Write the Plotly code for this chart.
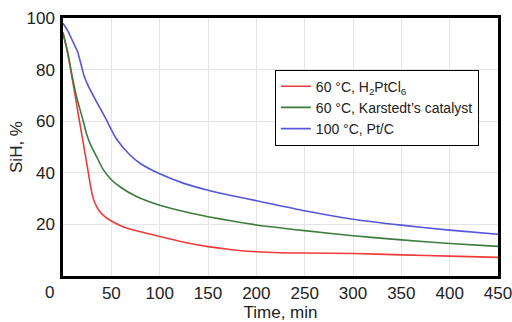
import plotly.graph_objects as go

# Reaction time, min, and remaining Si-H content, %
t_h2ptcl6 = [0, 5, 10, 15, 20, 24, 26, 28, 30, 33, 38, 44, 50, 62, 76, 100, 125, 150, 175, 200, 225, 250, 300, 350, 400, 450]
sih_h2ptcl6 = [94.5, 86, 75.5, 64.5, 53.5, 45, 40.5, 36, 32, 28.3, 25, 22.8, 21.3, 19.1, 17.5, 15.3, 13.1, 11.4, 10.2, 9.4, 9.0, 8.9, 8.7, 8.2, 7.7, 7.2]

t_karstedt = [0, 5, 10, 14, 18, 21, 24, 27.6, 31, 34.6, 41, 50, 60, 75, 100, 125, 150, 175, 200, 250, 300, 350, 400, 450]
sih_karstedt = [94, 86.5, 76.5, 69.5, 64, 60, 55.5, 51.7, 49, 46.4, 41.6, 37.3, 34.3, 31, 27.4, 25, 23, 21.3, 19.8, 17.6, 15.6, 14, 12.6, 11.5]

t_ptc = [0, 5, 10, 15, 19, 22, 27, 34, 44.5, 55, 69, 80, 100, 125, 150, 175, 200, 250, 300, 350, 400, 450]
sih_ptc = [98, 95, 91, 87, 81.5, 77.3, 73, 68, 60.8, 53.3, 47, 43.6, 39.6, 35.9, 33.2, 31.1, 29.2, 25.3, 22, 19.7, 17.8, 16.2]

series = [
    ("60 °C, H<sub>2</sub>PtCl<sub>6</sub>", t_h2ptcl6, sih_h2ptcl6, "#ef3b3b"),
    ("60 °C, Karstedt’s catalyst", t_karstedt, sih_karstedt, "#3e7c3e"),
    ("100 °C, Pt/C", t_ptc, sih_ptc, "#5656dc"),
]

x_ticks = [50, 100, 150, 200, 250, 300, 350, 400, 450]
y_ticks = [20, 40, 60, 80, 100]

FONT = "Liberation Sans"
TXT = "#222"

fig = go.Figure()
for name, xs, ys, color in series:
    fig.add_trace(go.Scatter(
        x=xs, y=ys, name=name, mode="lines",
        line=dict(color=color, width=1.6, shape="spline", smoothing=0.6),
    ))

axis_common = dict(
    showline=True, linecolor="black", linewidth=2.5, mirror=True,
    showgrid=True, gridcolor="#e4e4e4", gridwidth=1,
    zeroline=False, ticks="", automargin=False, ticklabeloverflow="allow",
    tickfont=dict(family=FONT, size=17, color=TXT),
)

fig.update_xaxes(
    range=[0, 450], tickvals=x_ticks, ticklabelstandoff=0,
    title=dict(text="Time, min", font=dict(family=FONT, size=17, color=TXT), standoff=5),
    **axis_common,
)
fig.update_yaxes(
    range=[0, 100], tickvals=y_ticks, ticklabelstandoff=2,
    title=dict(text="SiH, %", font=dict(family=FONT, size=17, color=TXT), standoff=0),
    **axis_common,
)

# shared origin label at the lower-left corner
fig.add_annotation(
    x=-0.03, xref="paper", y=-0.065, yref="paper", text="0", showarrow=False,
    xanchor="center", yanchor="middle", font=dict(family=FONT, size=17, color=TXT),
)

fig.update_layout(
    width=512, height=322,
    margin=dict(l=63, r=14, t=18, b=46, autoexpand=False),
    paper_bgcolor="white", plot_bgcolor="white",
    showlegend=True,
    legend=dict(
        x=0.487, y=0.80, xanchor="left", yanchor="top",
        bgcolor="white", bordercolor="black", borderwidth=1,
        font=dict(family=FONT, size=14, color=TXT),
        tracegroupgap=0, itemwidth=30,
    ),
)

fig.write_html("out.html")
